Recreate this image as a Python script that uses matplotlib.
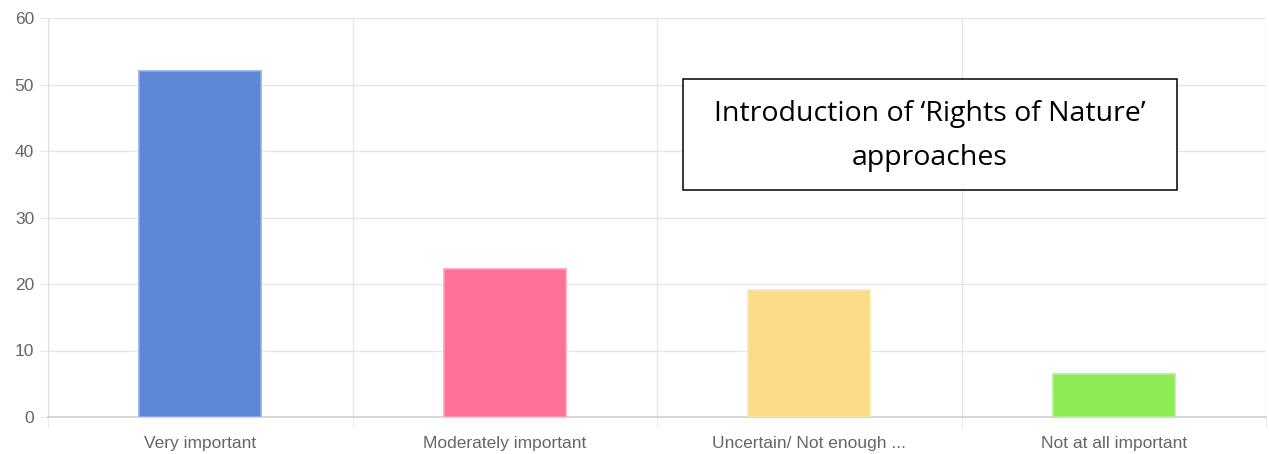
import matplotlib.pyplot as plt
from matplotlib.patches import Rectangle

# 各选项的回答比例
categories = ['Very important', 'Moderately important', 'Uncertain/ Not enough ...', 'Not at all important']
values = [52.1, 22.3, 19.1, 6.4]
bar_colors = ['#5d87d5', '#ff7096', '#fadb87', '#8ceb52']
edge_colors = ['#8eaee6', '#ff9fb9', '#fce7ad', '#b3f28d']
y_ticks = [0, 10, 20, 30, 40, 50, 60]
title = 'Introduction of \u2018Rights of Nature\u2019\napproaches'

plt.rcParams['font.family'] = ['Liberation Sans', 'DejaVu Sans']

fig = plt.figure(figsize=(12.69, 4.54), dpi=100)
ax = fig.add_axes([48 / 1269, 37 / 454, 1218 / 1269, 399 / 454])

x = list(range(len(categories)))
ax.bar(x, values, width=0.4, color=bar_colors, edgecolor=edge_colors, linewidth=1.2, zorder=3)

ax.set_xlim(-0.5, len(categories) - 0.5)
ax.set_ylim(0, 60)
ax.set_yticks(y_ticks)
ax.set_xticks(x)
ax.set_xticklabels(categories)
# 类别分隔线
ax.set_xticks([i - 0.5 for i in range(len(categories) + 1)], minor=True)

ax.grid(True, axis='y', which='major', color='#e6e6e6', linewidth=1, zorder=0)
ax.grid(True, axis='x', which='minor', color='#e6e6e6', linewidth=1, zorder=0)

ax.tick_params(axis='y', length=6, color='#e6e6e6', labelcolor='#666666', labelsize=12.5, pad=4)
ax.tick_params(axis='x', which='major', length=0, labelcolor='#666666', labelsize=12.5, pad=14)
ax.tick_params(axis='x', which='minor', length=8, color='#e6e6e6')

for side in ['top', 'right']:
    ax.spines[side].set_visible(False)
ax.spines['left'].set_color('#e0e0e0')
ax.spines['bottom'].set_color('#d0d0d0')
ax.spines['bottom'].set_linewidth(1.2)

# 标题框
fig.patches.append(Rectangle((683 / 1269, 1 - 190 / 454), 494 / 1269, 111 / 454,
                             transform=fig.transFigure, facecolor='white',
                             edgecolor='black', linewidth=1.1, zorder=5))
fig.text(930 / 1269, 1 - 136 / 454, title, ha='center', va='center', fontsize=20.5,
         family=['Open Sans', 'DejaVu Sans'], linespacing=1.75, zorder=6)

fig.savefig('out.png', dpi=100)
